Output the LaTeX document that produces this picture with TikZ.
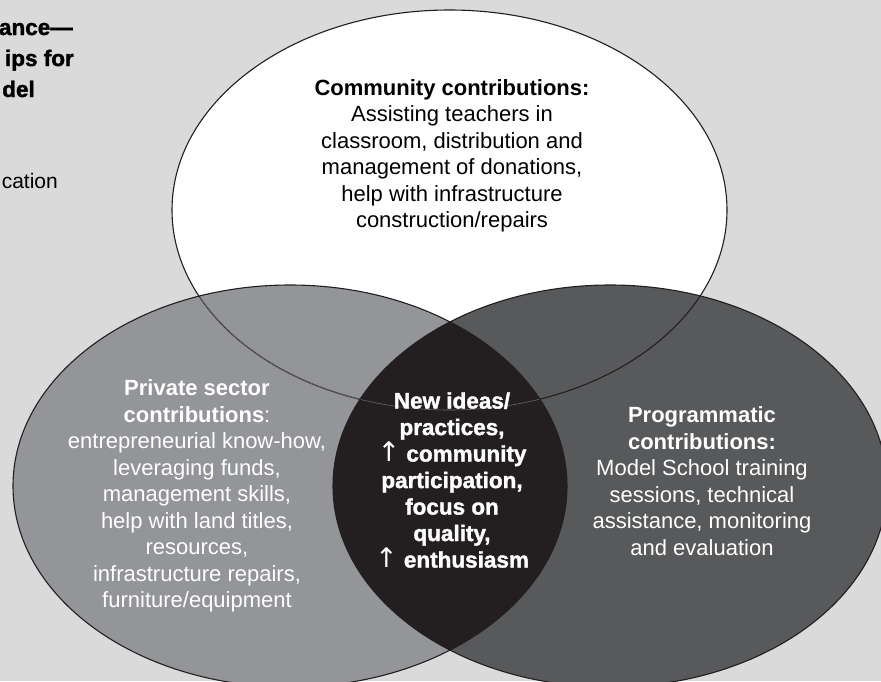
\documentclass[tikz,border=0pt]{standalone}
\usepackage{fontspec}
\setmainfont{Liberation Sans}
\newfontfamily\heavyfont[FakeBold=1.6]{Liberation Sans Bold}
\newfontfamily\arrowfont{DejaVu Sans}
\definecolor{bg}{HTML}{DADADA}
\definecolor{lgray}{HTML}{939598}
\definecolor{dgray}{HTML}{58595B}
\definecolor{lensc}{HTML}{231F20}
\newcommand{\uparr}{{\fontsize{27}{26.5}\arrowfont\char"2191}}
\tikzset{
  outline/.style={draw=lensc, line width=1.1pt},
  bodytxt/.style={align=center, inner sep=0pt, font=\fontsize{22}{26.5}\selectfont},
  heavytxt/.style={align=center, inner sep=0pt, font=\fontsize{22.5}{26.5}\selectfont\heavyfont},
}
\begin{document}
\begin{tikzpicture}[x=1pt,y=-1pt]
\useasboundingbox (0,0) rectangle (881,681);
\fill[bg] (0,0) rectangle (881,681);
% fills
\fill[white] (449.5,210) ellipse [x radius=277.5pt, y radius=200pt];
\fill[lgray] (290,486) ellipse [x radius=277pt, y radius=201pt];
\fill[dgray] (610,486) ellipse [x radius=277pt, y radius=201pt];
\begin{scope}
  \clip (290,486) ellipse [x radius=277pt, y radius=201pt];
  \fill[lensc] (610,486) ellipse [x radius=277pt, y radius=201pt];
\end{scope}
% top outline (visible over grey areas)
\draw[outline] (449.5,210) ellipse [x radius=277.5pt, y radius=200pt];
% cover top outline inside the lens, then faint trace
\begin{scope}
  \clip (290,486) ellipse [x radius=276pt, y radius=200pt];
  \fill[lensc] (610,486) ellipse [x radius=276pt, y radius=200pt];
  \draw[draw=lgray!60!lensc, line width=0.6pt] (449.5,210) ellipse [x radius=277.5pt, y radius=200pt];
\end{scope}
\draw[outline] (290,486) ellipse [x radius=277pt, y radius=201pt];
\draw[outline] (610,486) ellipse [x radius=277pt, y radius=201pt];
% texts
\node[bodytxt, text=black] (community) at (452,156)
  {\textbf{Community contributions:}\\Assisting teachers in\\classroom, distribution and\\management of donations,\\help with infrastructure\\construction/repairs};
\node[bodytxt, text=white] (private) at (197,496)
  {\textbf{Private sector}\\\textbf{contributions}:\\entrepreneurial know-how,\\leveraging funds,\\management skills,\\help with land titles,\\resources,\\infrastructure repairs,\\furniture/equipment};
\node[bodytxt, text=white] (program) at (702,481)
  {\textbf{Programmatic}\\\textbf{contributions:}\\Model School training\\sessions, technical\\assistance, monitoring\\and evaluation};
\node[heavytxt, text=white] (center) at (452,480)
  {New ideas/\\practices,\\\uparr{} community\\participation,\\focus on\\quality,\\\uparr{} enthusiasm};
% cut-off title at top left
\node[heavytxt, anchor=base east] (t1) at (73,35) {ance—};
\node[heavytxt, anchor=base east] (t2) at (74,66) {ips for};
\node[heavytxt, anchor=base east] (t3) at (35,97) {del};
\node[bodytxt, anchor=base east, font=\fontsize{21}{26.5}\selectfont] (t4) at (58,188) {cation};
\end{tikzpicture}
\end{document}
